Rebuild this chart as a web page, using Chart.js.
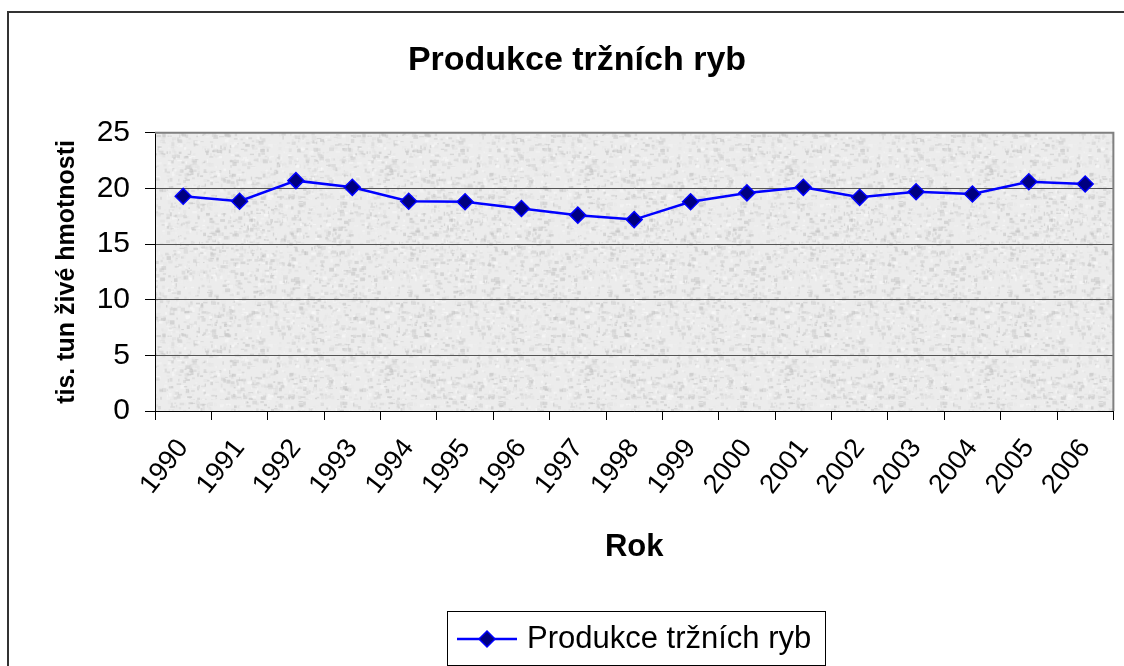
<!DOCTYPE html>
<html lang="cs">
<head>
    <meta charset="UTF-8">
    <title>Produkce tržních ryb</title>
    <style>
        body {
            margin: 0;
            padding: 0;
            background: #fff;
        }

        #wrap {
            width: 1124px;
            height: 666px;
            position: relative;
        }
    </style>
</head>
<body>
    <div id="wrap">
        <canvas id="fishChart"></canvas>
    </div>
    <script src="https://cdn.jsdelivr.net/npm/chart.js"></script>
    <script>
        // data
        const years = ['1990', '1991', '1992', '1993', '1994', '1995', '1996', '1997', '1998',
                       '1999', '2000', '2001', '2002', '2003', '2004', '2005', '2006'];
        const production = [19.3, 18.85, 20.7, 20.1, 18.85, 18.8, 18.2, 17.6, 17.2,
                            18.8, 19.6, 20.1, 19.2, 19.7, 19.5, 20.6, 20.4];
        const yTicks = [0, 5, 10, 15, 20, 25];

        const seriesName = 'Produkce tržních ryb';
        const FONT = "'Liberation Sans', Arial, sans-serif";

        // grainy grey fill like the old Excel plot area (decoration only)
        function makeTexture() {
            const c = document.createElement('canvas');
            c.width = 200;
            c.height = 200;
            const g = c.getContext('2d');
            g.fillStyle = '#ececec';
            g.fillRect(0, 0, 200, 200);
            let s = 12345;
            const next = () => (s = (s * 16807) % 2147483647) / 2147483647;
            for (let i = 0; i < 2600; i++) {
                const v = 185 + Math.floor(next() * 70);
                g.fillStyle = `rgba(${v},${v},${v},0.5)`;
                g.fillRect(next() * 200, next() * 200, 1 + next() * 4, 1 + next() * 3);
            }
            return c;
        }

        const framePlugin = {
            id: 'frame',
            beforeDraw(chart) {
                const ctx = chart.ctx;
                const a = chart.chartArea;
                ctx.save();
                ctx.fillStyle = '#fff';
                ctx.fillRect(0, 0, chart.width, chart.height);
                // outer chart border, runs off the right and bottom edge
                ctx.strokeStyle = '#333';
                ctx.lineWidth = 2;
                ctx.strokeRect(8, 12, 1132, 700);
                ctx.fillStyle = ctx.createPattern(makeTexture(), 'repeat');
                ctx.fillRect(a.left, a.top, a.right - a.left, a.bottom - a.top);
                ctx.restore();
            },
            afterDraw(chart) {
                const ctx = chart.ctx;
                const a = chart.chartArea;
                ctx.save();
                // grey plot border top + right
                ctx.strokeStyle = '#808080';
                ctx.lineWidth = 2;
                ctx.beginPath();
                ctx.moveTo(a.left, a.top);
                ctx.lineTo(a.right, a.top);
                ctx.lineTo(a.right, a.bottom);
                ctx.stroke();

                // legend box
                const bx = 447, by = 611, bw = 378, bh = 54;
                ctx.fillStyle = '#fff';
                ctx.fillRect(bx, by, bw, bh);
                ctx.strokeStyle = '#000';
                ctx.lineWidth = 1;
                ctx.strokeRect(bx + 0.5, by + 0.5, bw, bh);
                const cy = by + bh / 2 + 1;
                ctx.strokeStyle = '#0000ff';
                ctx.lineWidth = 2.5;
                ctx.beginPath();
                ctx.moveTo(457, cy);
                ctx.lineTo(517, cy);
                ctx.stroke();
                ctx.beginPath();
                ctx.moveTo(487, cy - 8);
                ctx.lineTo(495, cy);
                ctx.lineTo(487, cy + 8);
                ctx.lineTo(479, cy);
                ctx.closePath();
                ctx.fillStyle = '#000080';
                ctx.fill();
                ctx.lineWidth = 1.5;
                ctx.stroke();
                ctx.fillStyle = '#000';
                ctx.font = '31px ' + FONT;
                ctx.textBaseline = 'middle';
                ctx.fillText(seriesName, 527, cy);
                ctx.restore();
            }
        };

        const ctx = document.getElementById('fishChart').getContext('2d');
        new Chart(ctx, {
            type: 'line',
            data: {
                labels: years,
                datasets: [{
                    label: seriesName,
                    data: production,
                    borderColor: '#0000ff',
                    borderWidth: 2.5,
                    pointStyle: 'rectRot',
                    pointRadius: 8,
                    pointBackgroundColor: '#000080',
                    pointBorderColor: '#0000ff',
                    pointBorderWidth: 1.5,
                    tension: 0
                }]
            },
            options: {
                responsive: true,
                maintainAspectRatio: false,
                animation: false,
                layout: {
                    padding: { left: 30, right: 0, top: 0, bottom: 86 }
                },
                plugins: {
                    legend: { display: false },
                    tooltip: { enabled: false },
                    title: {
                        display: true,
                        text: seriesName,
                        color: '#000',
                        font: { family: FONT, size: 34, weight: 'bold' },
                        padding: { top: 40, bottom: 52 }
                    }
                },
                scales: {
                    x: {
                        type: 'category',
                        offset: true,
                        grid: {
                            offset: true,
                            drawOnChartArea: false,
                            drawTicks: true,
                            tickLength: 9,
                            color: '#000'
                        },
                        border: { display: true, color: '#000', width: 1 },
                        ticks: {
                            color: '#000',
                            font: { family: FONT, size: 27 },
                            minRotation: 52,
                            maxRotation: 52,
                            padding: 13,
                            autoSkip: false
                        },
                        title: {
                            display: true,
                            text: 'Rok',
                            color: '#000',
                            font: { family: FONT, size: 31, weight: 'bold' },
                            padding: { top: 0, bottom: 14 }
                        },
                        afterFit(scale) {
                            scale.height = 169;
                        }
                    },
                    y: {
                        min: 0,
                        max: 25,
                        afterBuildTicks(scale) {
                            scale.ticks = yTicks.map(v => ({ value: v }));
                        },
                        grid: {
                            color: '#555',
                            tickColor: '#000',
                            tickLength: 10,
                            lineWidth: 1
                        },
                        border: { display: true, color: '#000', width: 1 },
                        ticks: {
                            color: '#000',
                            font: { family: FONT, size: 30 },
                            padding: 15
                        },
                        title: {
                            display: true,
                            text: 'tis. tun živé hmotnosti',
                            color: '#000',
                            font: { family: FONT, size: 25, weight: 'bold' },
                            padding: { top: 22, bottom: 0 }
                        },
                        afterFit(scale) {
                            scale.width = 125;
                        }
                    }
                }
            },
            plugins: [framePlugin]
        });
    </script>
</body>
</html>
